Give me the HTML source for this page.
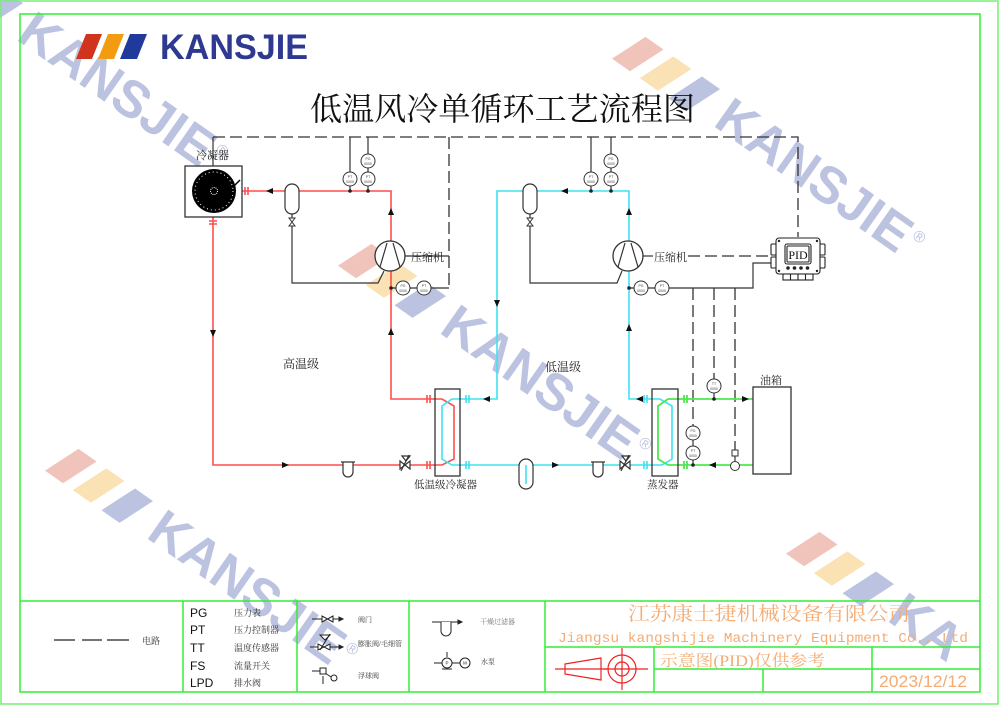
<!DOCTYPE html>
<html><head><meta charset="utf-8">
<style>
html,body{margin:0;padding:0;background:#fff;width:1000px;height:706px;overflow:hidden;}
svg{display:block}
.s{font-family:"Liberation Serif","Noto Serif CJK SC",serif;}
.a{font-family:"Liberation Sans","Noto Sans CJK SC",sans-serif;}
</style></head><body>
<svg width="1000" height="706" viewBox="0 0 1000 706" xmlns="http://www.w3.org/2000/svg" style="overflow:hidden">
<rect width="1000" height="706" fill="#fff"/>

<!-- watermarks -->
<g transform="translate(15,39) rotate(35)">
 <polygon points="-51,3 -29,3 -14,-34 -36,-34" fill="#bcc3e0"/>
 <text x="0" y="0" class="a" font-weight="bold" font-size="52" fill="#bcc3e0">KANSJIE</text>
 <text x="228" y="-22" class="a" font-size="16" fill="#bcc3e0">®</text>
</g>
<g transform="translate(712,125) rotate(35)">
 <polygon points="-120,3 -98,3 -83,-34 -105,-34" fill="#f0c4ba"/>
 <polygon points="-86,3 -64,3 -49,-34 -71,-34" fill="#fae2b4"/>
 <polygon points="-51,3 -29,3 -14,-34 -36,-34" fill="#bcc3e0"/>
 <text x="0" y="0" class="a" font-weight="bold" font-size="52" fill="#bcc3e0">KANSJIE</text>
 <text x="228" y="-22" class="a" font-size="16" fill="#bcc3e0">®</text>
</g>
<g transform="translate(438,332) rotate(35)">
 <polygon points="-120,3 -98,3 -83,-34 -105,-34" fill="#f0c4ba"/>
 <polygon points="-86,3 -64,3 -49,-34 -71,-34" fill="#fae2b4"/>
 <polygon points="-51,3 -29,3 -14,-34 -36,-34" fill="#bcc3e0"/>
 <text x="0" y="0" class="a" font-weight="bold" font-size="52" fill="#bcc3e0">KANSJIE</text>
 <text x="228" y="-22" class="a" font-size="16" fill="#bcc3e0">®</text>
</g>
<g transform="translate(145,537) rotate(35)">
 <polygon points="-120,3 -98,3 -83,-34 -105,-34" fill="#f0c4ba"/>
 <polygon points="-86,3 -64,3 -49,-34 -71,-34" fill="#fae2b4"/>
 <polygon points="-51,3 -29,3 -14,-34 -36,-34" fill="#bcc3e0"/>
 <text x="0" y="0" class="a" font-weight="bold" font-size="52" fill="#bcc3e0">KANSJIE</text>
 <text x="228" y="-22" class="a" font-size="16" fill="#bcc3e0">®</text>
</g>
<g transform="translate(886,620) rotate(35)">
 <polygon points="-120,3 -98,3 -83,-34 -105,-34" fill="#f0c4ba"/>
 <polygon points="-86,3 -64,3 -49,-34 -71,-34" fill="#fae2b4"/>
 <polygon points="-51,3 -29,3 -14,-34 -36,-34" fill="#bcc3e0"/>
 <text x="0" y="0" class="a" font-weight="bold" font-size="52" fill="#bcc3e0">KA</text>
</g>

<!-- frames -->
<rect x="1" y="1" width="997" height="703" fill="none" stroke="#77ee77" stroke-width="1.5"/>
<rect x="20" y="14" width="960" height="678" fill="none" stroke="#33ee33" stroke-width="1.5"/>
<g stroke="#33ee33" stroke-width="1.5" fill="none">
 <path d="M20,601 H980"/>
 <path d="M183,601 V692 M297,601 V692 M409,601 V692 M545,601 V692"/>
 <path d="M545,647 H980 M654,669 H980 M654,647 V692 M872,647 V692 M763,669 V692"/>
</g>

<!-- logo -->
<polygon points="86,34 102,34 92,59 76,59" fill="#d0341c"/>
<polygon points="108,34 124,34 114,59 98,59" fill="#f39c12"/>
<polygon points="130,34 147,34 137,59 120,59" fill="#1f3a9b"/>
<text x="160" y="59" class="a" font-weight="bold" font-size="35" fill="#2e3a91" textLength="148" lengthAdjust="spacingAndGlyphs">KANSJIE</text>

<!-- title -->
<text x="310" y="120" class="s" font-size="32" fill="#111" textLength="385" lengthAdjust="spacingAndGlyphs">低温风冷单循环工艺流程图</text>

<!-- dashed control lines -->
<g stroke="#333" stroke-width="1.3" fill="none" stroke-dasharray="12,5">
 <path d="M213,137 H798 V237"/>
 <path d="M449,137 V288"/>
 <path d="M688,256 H773"/>
 <path d="M693,288 V426"/>
 <path d="M714,288 V379"/>
 <path d="M735,288 V450"/>
</g>
<!-- solid black lines -->
<g stroke="#333" stroke-width="1.2" fill="none">
 <path d="M213,166 V137"/>
 <path d="M350,137 V172 M368,137 V154 M368,168 V172 M350,186 V191 M368,186 V191"/>
 <path d="M591,137 V172 M611,137 V154 M611,168 V172 M591,186 V191 M611,186 V191"/>
 <path d="M292,214 V218 M292,226 V283 H378 L384,271"/>
 <path d="M530,214 V218 M530,226 V283 H617 L622,271"/>
 <path d="M391,288 H396 M410,288 H417 M431,288 H449"/>
 <path d="M405,256 H449"/>
 <path d="M629,288 H634 M648,288 H655 M669,288 H753 V263 H773"/>
 <path d="M643,256 H653"/>
 <path d="M714,393 V399"/>
 <path d="M693,440 V446 M693,460 V465"/>
 <path d="M735,456 V461"/>
</g>

<!-- red high-temp loop -->
<g stroke="#ff4d4d" stroke-width="1.6" fill="none">
 <path d="M242,191 H391 V241"/>
 <path d="M391,271 V399 H435"/>
 <path d="M213,217 V465 H435"/>
 <path d="M435,399 H442 L454,406 V459 L442,465 H435"/>
 <path d="M245,187 V195 M248,187 V195 M209,221 H217 M209,224 H217 M427,395 V403 M430,395 V403 M427,461 V469 M430,461 V469"/>
</g>
<!-- cyan low-temp loop -->
<g stroke="#3de3f0" stroke-width="1.6" fill="none">
 <path d="M460,399 H497 V191 H629 V241"/>
 <path d="M629,271 V399 H652"/>
 <path d="M460,465 H652"/>
 <path d="M460,399 H452 L442,406 V459 L452,465 H460"/>
 <path d="M652,399 H660 L672,406 V459 L662,465 H652"/>
 <path d="M466,395 V403 M469,395 V403 M466,461 V469 M469,461 V469 M644,395 V403 M647,395 V403 M644,461 V469 M647,461 V469"/>
</g>
<!-- green oil loop -->
<g stroke="#4ee84e" stroke-width="1.8" fill="none">
 <path d="M678,399 H753"/>
 <path d="M678,465 H753"/>
 <path d="M678,399 H668 L658,406 V459 L668,465 H678"/>
 <path d="M684,395 V403 M687,395 V403 M684,461 V469 M687,461 V469"/>
</g>

<!-- boxes -->
<g stroke="#333" stroke-width="1.3" fill="none">
 <rect x="435" y="389" width="25" height="87"/>
 <rect x="652" y="389" width="26" height="87"/>
 <rect x="753" y="387" width="38" height="87"/>
 <rect x="185" y="166" width="57" height="51"/>
</g>

<!-- condenser fan -->
<circle cx="214" cy="191" r="22" fill="#000"/>
<circle cx="214" cy="191" r="19" fill="none" stroke="#fff" stroke-width="1" stroke-dasharray="1,3"/>
<circle cx="214" cy="191" r="3.5" fill="none" stroke="#fff" stroke-width="1" stroke-dasharray="1,1"/>
<path d="M233,187 L240,180" stroke="#000" stroke-width="1.5"/>

<!-- receivers -->
<rect x="285" y="184" width="14" height="30" rx="7" fill="#fff" stroke="#333" stroke-width="1.2"/>
<rect x="523" y="184" width="14" height="30" rx="7" fill="#fff" stroke="#333" stroke-width="1.2"/>
<path d="M289,218 L295,218 L289,226 L295,226 Z" fill="#fff" stroke="#333" stroke-width="1"/>
<path d="M527,218 L533,218 L527,226 L533,226 Z" fill="#fff" stroke="#333" stroke-width="1"/>
<rect x="519" y="459" width="14" height="30" rx="7" fill="#fff" stroke="#333" stroke-width="1.2"/>
<path d="M526,465 V484" stroke="#3de3f0" stroke-width="1.6"/>

<!-- compressors -->
<circle cx="390" cy="256" r="15" fill="#fff" stroke="#333" stroke-width="1.3"/>
<path d="M380,267 L387,243 M393,243 L400,267" stroke="#333" stroke-width="1.2" fill="none"/>
<circle cx="628" cy="256" r="15" fill="#fff" stroke="#333" stroke-width="1.3"/>
<path d="M618,267 L625,243 M631,243 L638,267" stroke="#333" stroke-width="1.2" fill="none"/>

<!-- filters -->
<path d="M341,462 H355 M343,462 V472 A5,5 0 0 0 353,472 V462" stroke="#333" stroke-width="1.2" fill="#fff"/>
<path d="M591,462 H605 M593,462 V472 A5,5 0 0 0 603,472 V462" stroke="#333" stroke-width="1.2" fill="#fff"/>

<!-- expansion valves -->
<g stroke="#333" stroke-width="1.2" fill="#fff">
 <path d="M400,461 L410,469 L410,461 L400,469 Z"/>
 <path d="M402,456 L410,456 L406,461 Z"/>
 <path d="M401,471 L409,455" fill="none"/>
 <path d="M620,461 L630,469 L630,461 L620,469 Z"/>
 <path d="M622,456 L630,456 L626,461 Z"/>
 <path d="M621,471 L629,455" fill="none"/>
</g>

<!-- dots -->
<g fill="#222">
 <circle cx="350" cy="191" r="1.8"/><circle cx="368" cy="191" r="1.8"/>
 <circle cx="591" cy="191" r="1.8"/><circle cx="611" cy="191" r="1.8"/>
 <circle cx="391" cy="288" r="1.8"/><circle cx="629" cy="288" r="1.8"/>
 <circle cx="714" cy="399" r="1.8"/><circle cx="693" cy="465" r="1.8"/>
</g>

<!-- arrows -->
<g fill="#111">
 <polygon points="266,191 273,188 273,194"/>
 <polygon points="391,208 388,215 394,215"/>
 <polygon points="391,328 388,335 394,335"/>
 <polygon points="213,337 210,330 216,330"/>
 <polygon points="289,465 282,462 282,468"/>
 <polygon points="483,399 490,396 490,402"/>
 <polygon points="497,307 494,300 500,300"/>
 <polygon points="561,191 568,188 568,194"/>
 <polygon points="629,208 626,215 632,215"/>
 <polygon points="629,324 626,331 632,331"/>
 <polygon points="636,399 643,396 643,402"/>
 <polygon points="559,465 552,462 552,468"/>
 <polygon points="749,399 742,396 742,402"/>
 <polygon points="709,465 716,462 716,468"/>
</g>

<!-- gauges -->
<g stroke="#333" stroke-width="1" fill="#fff">
 <circle cx="350" cy="179" r="7"/><circle cx="368" cy="161" r="7"/><circle cx="368" cy="179" r="7"/>
 <circle cx="403" cy="288" r="7"/><circle cx="424" cy="288" r="7"/>
 <circle cx="591" cy="179" r="7"/><circle cx="611" cy="161" r="7"/><circle cx="611" cy="179" r="7"/>
 <circle cx="641" cy="288" r="7"/><circle cx="662" cy="288" r="7"/>
 <circle cx="714" cy="386" r="7"/><circle cx="693" cy="433" r="7"/><circle cx="693" cy="453" r="7"/>
 <rect x="732" y="450" width="6" height="6"/>
 <circle cx="735" cy="466" r="4.5"/>
</g>
<g class="a" font-size="3.5" fill="#444" text-anchor="middle">
 <text x="350" y="178">PT</text><text x="350" y="183">0000</text>
 <text x="368" y="160">PG</text><text x="368" y="165">0000</text>
 <text x="368" y="178">PT</text><text x="368" y="183">0000</text>
 <text x="403" y="287">PG</text><text x="403" y="292">0000</text>
 <text x="424" y="287">PT</text><text x="424" y="292">0000</text>
 <text x="591" y="178">PT</text><text x="591" y="183">0000</text>
 <text x="611" y="160">PG</text><text x="611" y="165">0000</text>
 <text x="611" y="178">PT</text><text x="611" y="183">0000</text>
 <text x="641" y="287">PG</text><text x="641" y="292">0000</text>
 <text x="662" y="287">PT</text><text x="662" y="292">0000</text>
 <text x="714" y="385">TT</text><text x="714" y="390">0000</text>
 <text x="693" y="432">PG</text><text x="693" y="437">0000</text>
 <text x="693" y="452">PT</text><text x="693" y="457">0000</text>
</g>

<!-- PID controller -->
<g stroke="#222" stroke-width="1.1" fill="#fff">
 <rect x="771" y="244" width="6" height="11" rx="1"/>
 <rect x="771" y="257" width="6" height="11" rx="1"/>
 <rect x="819" y="244" width="6" height="11" rx="1"/>
 <rect x="819" y="257" width="6" height="11" rx="1"/>
 <rect x="776" y="238" width="44" height="36" rx="3"/>
 <rect x="783" y="274" width="30" height="6"/>
 <path d="M790.5,274 V280 M798,274 V280 M805.5,274 V280" fill="none"/>
 <rect x="785" y="244" width="26" height="20" rx="2"/>
 <rect x="787" y="246" width="22" height="16" rx="1"/>
</g>
<g fill="#222">
 <circle cx="779" cy="241" r="1.2"/><circle cx="817" cy="241" r="1.2"/>
 <circle cx="779" cy="271" r="1.2"/><circle cx="817" cy="271" r="1.2"/>
 <circle cx="788" cy="268" r="1.8"/><circle cx="794.5" cy="268" r="1.8"/>
 <circle cx="801" cy="268" r="1.8"/><circle cx="807.5" cy="268" r="1.8"/>
</g>
<text x="798" y="259" class="s" font-size="12" fill="#111" text-anchor="middle">PID</text>

<!-- diagram labels -->
<g class="s" fill="#222">
 <text x="196" y="159" font-size="11">冷凝器</text>
 <text x="411" y="261" font-size="11">压缩机</text>
 <text x="654" y="261" font-size="11">压缩机</text>
 <text x="283" y="368" font-size="12">高温级</text>
 <text x="545" y="371" font-size="12">低温级</text>
 <text x="414" y="488" font-size="10.5">低温级冷凝器</text>
 <text x="647" y="488" font-size="10.5">蒸发器</text>
 <text x="760" y="384" font-size="11">油箱</text>
</g>

<!-- legend -->
<path d="M54,640 H75 M82,640 H102 M107,640 H129" stroke="#222" stroke-width="1.3"/>
<text x="142" y="644" class="s" font-size="9" fill="#333">电路</text>
<g class="a" font-size="12" fill="#111">
 <text x="190" y="617">PG</text>
 <text x="190" y="634">PT</text>
 <text x="190" y="652">TT</text>
 <text x="190" y="670">FS</text>
 <text x="190" y="687">LPD</text>
</g>
<g class="s" font-size="9" fill="#333">
 <text x="234" y="616">压力表</text>
 <text x="234" y="633">压力控制器</text>
 <text x="234" y="651">温度传感器</text>
 <text x="234" y="669">流量开关</text>
 <text x="234" y="686">排水阀</text>
</g>
<!-- valve legend symbols -->
<g stroke="#222" stroke-width="1" fill="#fff">
 <path d="M312,619 H343" fill="none"/>
 <path d="M322,616 L322,622 L333,616 L333,622 Z"/>
 <polygon points="343,619 339,617 339,621" fill="#222"/>
 <path d="M310,647 H343" fill="none"/>
 <path d="M318,644 L318,650 L330,644 L330,650 Z"/>
 <path d="M320,635 L330,635 L325,640 Z"/>
 <path d="M320,650 L330,634" fill="none"/>
 <polygon points="343,647 339,645 339,649" fill="#222"/>
 <path d="M312,671 H322 M322,671 L331,677" fill="none"/>
 <rect x="320" y="668" width="6" height="6"/>
 <path d="M323,676 V684" fill="none"/>
 <circle cx="334" cy="678" r="3"/>
 <path d="M432,622 H462" fill="none"/>
 <path d="M441,622 V631 A5,5 0 0 0 451,631 V622"/>
 <polygon points="462,622 458,620 458,624" fill="#222"/>
 <path d="M434,663 H470 M447,652 V657" fill="none"/>
 <circle cx="447" cy="663" r="5"/>
 <circle cx="465" cy="663" r="5"/>
 <path d="M442,669 H452" fill="none"/>
</g>
<g class="a" font-size="4.5" fill="#222" text-anchor="middle">
 <text x="447" y="664.5">P</text><text x="465" y="664.5">M</text>
</g>
<g class="s" font-size="7" fill="#333">
 <text x="358" y="622">阀门</text>
 <text x="358" y="646">膨胀阀/毛细管</text>
 <text x="358" y="678">浮球阀</text>
 <text x="480" y="624" fill="#777">干燥过滤器</text>
 <text x="481" y="664">水泵</text>
</g>

<!-- title block -->
<text x="628" y="620" class="s" font-size="19" fill="#f4ac74" textLength="282" lengthAdjust="spacingAndGlyphs">江苏康士捷机械设备有限公司</text>
<text x="558" y="642" font-family="Liberation Mono, monospace" font-size="14" fill="#f4ac74" textLength="410" lengthAdjust="spacingAndGlyphs">Jiangsu kangshijie Machinery Equipment Co., Ltd</text>
<text x="660" y="666" class="s" font-size="16" fill="#f4ac74" textLength="165" lengthAdjust="spacingAndGlyphs">示意图(PID)仅供参考</text>
<text x="879" y="687" class="a" font-size="17" fill="#f4ac74" textLength="88" lengthAdjust="spacingAndGlyphs">2023/12/12</text>
<g stroke="#ee2222" stroke-width="1.2" fill="none">
 <path d="M555,669 H608"/>
 <polygon points="565,664 601,658 601,680 565,674"/>
 <circle cx="622" cy="669" r="14"/>
 <circle cx="622" cy="669" r="7"/>
 <path d="M604,669 H648 M622,648 V690"/>
</g>
</svg>
</body></html>
